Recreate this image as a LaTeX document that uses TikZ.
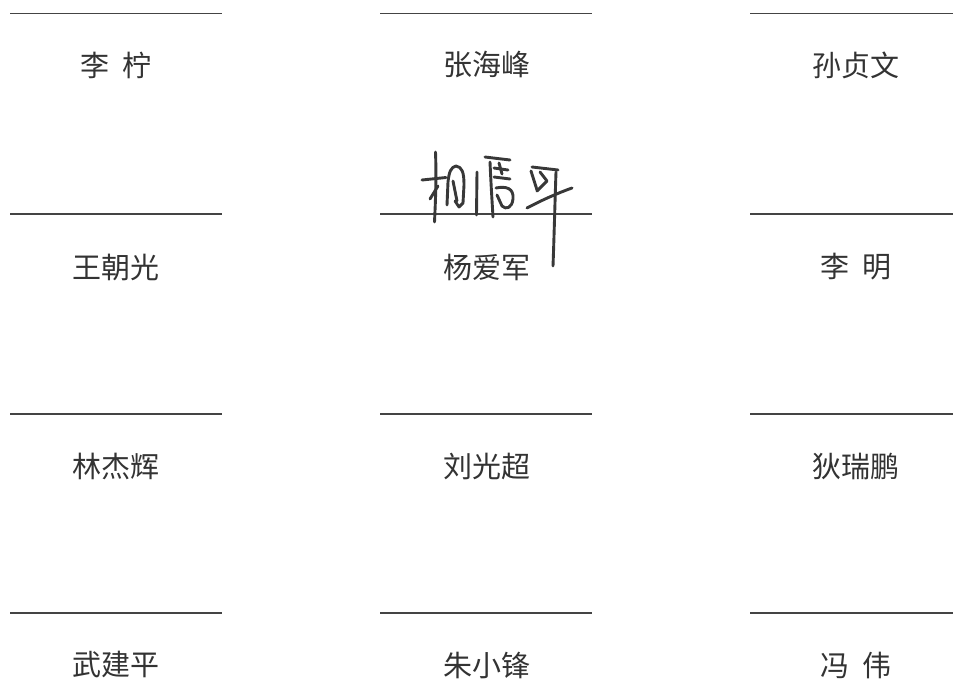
\documentclass[tikz,border=0pt]{standalone}
\usepackage{fontspec}
\newfontfamily\cjk{Noto Sans CJK SC}
\definecolor{ink}{HTML}{333333}
\definecolor{rule}{HTML}{444444}
\definecolor{pen}{HTML}{383838}
\begin{document}
\begin{tikzpicture}[x=1pt,y=-1pt,
  nametext/.style={font=\cjk\fontsize{29}{29}\selectfont, text=ink, inner sep=0pt, anchor=center},
  sigline/.style={draw=rule, line width=1.4pt},
  penstroke/.style={draw=pen, line width=2.9pt, line cap=round, line join=round}]
\useasboundingbox (0,0) rectangle (953,680);
\fill[white] (0,0) rectangle (953,680);
% signature lines
\foreach \y in {13.5,214,414,613}{
  \draw[sigline] (10,\y) -- (222,\y);
  \draw[sigline] (380,\y) -- (592,\y);
  \draw[sigline] (750,\y) -- (962,\y);
}
% names
\node[nametext] (n11) at (116,65) {李\hspace{0.45em}柠};
\node[nametext] (n12) at (487,65) {张海峰};
\node[nametext] (n13) at (856,65) {孙贞文};
\node[nametext] (n21) at (116,267) {王朝光};
\node[nametext] (n22) at (487,267) {杨爱军};
\node[nametext] (n23) at (856,267) {李\hspace{0.45em}明};
\node[nametext] (n31) at (116,466) {林杰辉};
\node[nametext] (n32) at (487,466) {刘光超};
\node[nametext] (n33) at (856,466) {狄瑞鹏};
\node[nametext] (n41) at (116,665) {武建平};
\node[nametext] (n42) at (487,665) {朱小锋};
\node[nametext] (n43) at (856,665) {冯\hspace{0.45em}伟};
% handwritten signature
\draw[penstroke] (422,180) -- (446,177.5);
\draw[penstroke] (435.5,152) .. controls (436.5,180) and (435.5,200) .. (434.5,222);
\draw[penstroke] (438,186) -- (430,199);
\draw[penstroke] (447,205) -- (448,182) .. controls (449,172) and (451,167) .. (456,166)
  .. controls (462,167) and (464,172) .. (464,185) -- (463,203) -- (459,207) -- (455,201);
\draw[penstroke] (453,181) -- (457,201);
\draw[penstroke] (477,172) -- (476.5,215);
\draw[penstroke] (485,157) -- (510,160);
\draw[penstroke] (490,162) .. controls (491,185) and (492,200) .. (493,217);
\draw[penstroke] (494,168) -- (508,170);
\draw[penstroke] (494,177) -- (510,179);
\draw[penstroke] (499,163) -- (502,174);
\draw[penstroke] (496,188) .. controls (506,186) and (514,188) .. (513,199)
  .. controls (512,208) and (506,210) .. (502,206) -- (497,195);
\draw[penstroke] (532,167) -- (558,170);
\draw[penstroke] (531,171) -- (537,190);
\draw[penstroke] (540,172) -- (547,181) -- (537,191);
\draw[penstroke] (527,208) .. controls (542,200) and (558,193) .. (572,188);
\draw[penstroke] (556,172) .. controls (555,200) and (554,240) .. (553,266);
\end{tikzpicture}
\end{document}
